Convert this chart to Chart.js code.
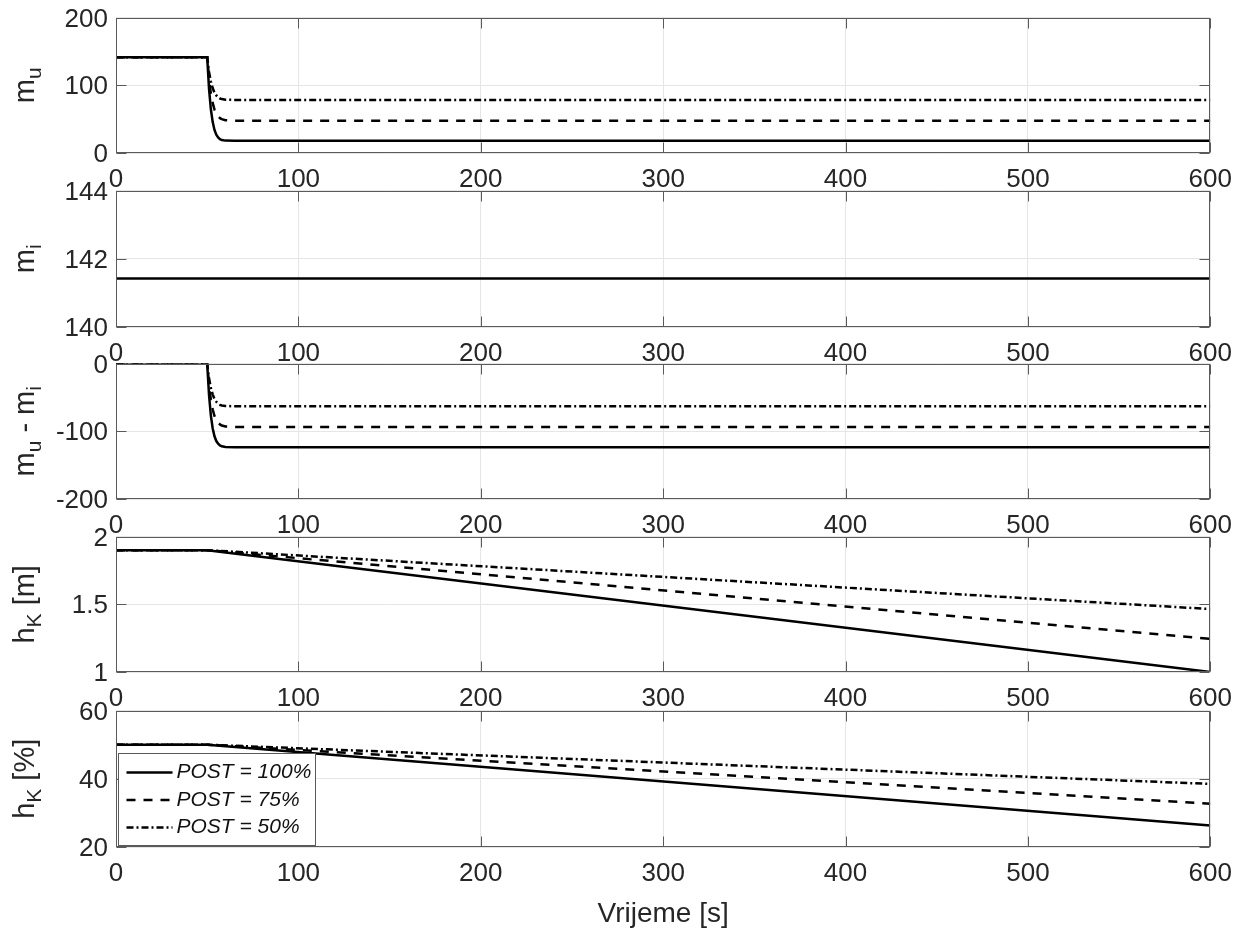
<!DOCTYPE html>
<html lang="hr">
<head>
<meta charset="utf-8">
<title>Vrijeme [s]</title>
<script src="https://cdn.jsdelivr.net/npm/chart.js"></script>
<style>
  body { margin: 0; background: #fff; }
  #figura { position: relative; width: 1243px; height: 933px; overflow: hidden; }
  #figura canvas { position: absolute; left: 0; }
</style>
</head>
<body>
<div id="figura"></div>
<script>
// === Podaci (ocitano sa slike) ===
const vrijeme = [0, 50, 51, 52, 53, 54, 55, 56, 57, 58, 60, 65, 600];
const muPost100 = [141.4, 141.4, 95, 65, 46, 34, 27, 23, 20.5, 19.2, 18.3, 18, 18];
const muPost75 = [141.4, 141.4, 110, 88, 74, 64, 58, 54, 51.5, 50, 48.5, 47.8, 47.8];
const muPost50 = [141.4, 141.4, 120, 105.5, 96, 89, 85, 82, 80.5, 79.6, 78.8, 78.4, 78.4];

const vrijemeMi = [0, 600];
const miSvi = [141.42, 141.42];

const razlikaPost100 = [0, 0, -46.4, -76.4, -95.4, -107.4, -114.4, -118.4, -120.9, -122.2, -123.1, -123.4, -123.4];
const razlikaPost75 = [0, 0, -31.4, -53.4, -67.4, -77.4, -83.4, -87.4, -89.9, -91.4, -92.9, -93.6, -93.6];
const razlikaPost50 = [0, 0, -21.4, -35.9, -45.4, -52.4, -56.4, -59.4, -60.9, -61.8, -62.6, -63, -63];

const vrijemeRazina = [0, 50, 600];
const hkPost100 = [1.9, 1.9, 1.0];
const hkPost75 = [1.9, 1.9, 1.245];
const hkPost50 = [1.9, 1.9, 1.465];
const hkPostoPost100 = [50, 50, 26.3];
const hkPostoPost75 = [50, 50, 32.7];
const hkPostoPost50 = [50, 50, 38.5];

const xOznake = [0, 100, 200, 300, 400, 500, 600];
const yOznakeMu = [0, 100, 200];
const yOznakeMi = [140, 142, 144];
const yOznakeRazlika = [-200, -100, 0];
const yOznakeHk = [1, 1.5, 2];
const yOznakeHkPosto = [20, 40, 60];

const legendaNazivi = ['POST = 100%', 'POST = 75%', 'POST = 50%'];

// === Izgled ===
const FONT = '"Liberation Sans", Arial, Helvetica, sans-serif';
const BOJA_TEKSTA = '#262626';
const BOJA_OSI = '#5a5a5a';
const BOJA_MREZE = '#e6e6e6';
const crtkanje = [[], [9, 8], [7, 3, 2, 3]];
const VRH = [18, 191, 364, 537, 711];
const VISINA = [135, 136, 135, 135, 136];
const GORE = 20;

const podgrafovi = [
  { naslov: [['m'], ['u', 1]], yOznake: yOznakeMu,
    serije: [[vrijeme, muPost100], [vrijeme, muPost75], [vrijeme, muPost50]] },
  { naslov: [['m'], ['i', 1]], yOznake: yOznakeMi,
    serije: [[vrijemeMi, miSvi]] },
  { naslov: [['m'], ['u', 1], [' - m'], ['i', 1]], yOznake: yOznakeRazlika,
    serije: [[vrijeme, razlikaPost100], [vrijeme, razlikaPost75], [vrijeme, razlikaPost50]] },
  { naslov: [['h'], ['K', 1], [' [m]']], yOznake: yOznakeHk,
    serije: [[vrijemeRazina, hkPost100], [vrijemeRazina, hkPost75], [vrijemeRazina, hkPost50]] },
  { naslov: [['h'], ['K', 1], [' [%]']], yOznake: yOznakeHkPosto, legenda: true,
    serije: [[vrijemeRazina, hkPostoPost100], [vrijemeRazina, hkPostoPost75], [vrijemeRazina, hkPostoPost50]] }
];

// === Okvir, unutarnje crtice, naslov osi y i legenda ===
const okvir = {
  id: 'okvir',
  afterDatasetsDraw(chart, args, opts) {
    const { ctx, chartArea: a, scales } = chart;
    const l = Math.round(a.left) + 0.5, r = Math.round(a.right) - 0.5;
    const t = Math.round(a.top) + 0.5, b = Math.round(a.bottom) - 0.5;
    ctx.save();
    ctx.strokeStyle = BOJA_OSI;
    ctx.lineWidth = 1;
    ctx.beginPath();
    scales.x.ticks.forEach(tk => {
      const px = Math.round(scales.x.getPixelForValue(tk.value)) + 0.5;
      ctx.moveTo(px, b); ctx.lineTo(px, b - 10);
      ctx.moveTo(px, t); ctx.lineTo(px, t + 10);
    });
    scales.y.ticks.forEach(tk => {
      const py = Math.round(scales.y.getPixelForValue(tk.value)) + 0.5;
      ctx.moveTo(l, py); ctx.lineTo(l + 10, py);
      ctx.moveTo(r, py); ctx.lineTo(r - 10, py);
    });
    ctx.stroke();
    ctx.strokeRect(l, t, r - l, b - t);

    // naslov osi y sa indeksima
    const glavni = '29px ' + FONT, indeks = '21px ' + FONT;
    let ukupno = 0;
    opts.naslov.forEach(([txt, sub]) => {
      ctx.font = sub ? indeks : glavni;
      ukupno += ctx.measureText(txt).width;
    });
    ctx.translate(34, (a.top + a.bottom) / 2);
    ctx.rotate(-Math.PI / 2);
    ctx.fillStyle = BOJA_TEKSTA;
    ctx.textBaseline = 'alphabetic';
    let x = -ukupno / 2;
    opts.naslov.forEach(([txt, sub]) => {
      ctx.font = sub ? indeks : glavni;
      ctx.fillText(txt, x, sub ? 7 : 0);
      x += ctx.measureText(txt).width;
    });
    ctx.restore();

    if (!opts.legenda) return;
    ctx.save();
    const lx = Math.round(a.left) + 2.5, ly = Math.round(a.bottom) - 93.5;
    ctx.fillStyle = '#fff';
    ctx.fillRect(lx, ly, 197, 92);
    ctx.strokeStyle = BOJA_OSI;
    ctx.strokeRect(lx, ly, 197, 92);
    ctx.font = 'italic 21px ' + FONT;
    ctx.textBaseline = 'middle';
    chart.data.datasets.forEach((ds, k) => {
      const y = ly + 19 + k * 27.5;
      ctx.strokeStyle = '#000';
      ctx.lineWidth = 2.5;
      ctx.setLineDash(ds.borderDash);
      ctx.beginPath();
      ctx.moveTo(lx + 8, y); ctx.lineTo(lx + 54, y);
      ctx.stroke();
      ctx.setLineDash([]);
      ctx.fillStyle = '#111';
      ctx.fillText(ds.label, lx + 58, y);
    });
    ctx.restore();
  }
};

// === Crtanje podgrafova ===
const figura = document.getElementById('figura');

function napraviGraf(p, i, dodatak) {
  const zadnji = i === podgrafovi.length - 1;
  const visinaX = zadnji ? 933 - (VRH[i] + VISINA[i]) : 40;
  const h = GORE + VISINA[i] + visinaX + dodatak;
  const canvas = document.createElement('canvas');
  canvas.width = 1243;
  canvas.height = h;
  canvas.style.top = (VRH[i] - GORE) + 'px';
  canvas.style.width = '1243px';
  canvas.style.height = h + 'px';
  figura.appendChild(canvas);

  const yOz = p.yOznake;
  const graf = new Chart(canvas, {
    type: 'line',
    data: {
      datasets: p.serije.map(([xs, ys], k) => ({
        label: legendaNazivi[k],
        data: xs.map((v, j) => ({ x: v, y: ys[j] })),
        borderColor: '#000',
        borderWidth: 2.5,
        borderDash: crtkanje[k],
        pointRadius: 0,
        tension: 0,
        fill: false
      }))
    },
    options: {
      responsive: false,
      animation: false,
      devicePixelRatio: 1,
      layout: { padding: { top: GORE, right: 31, left: 0, bottom: 0 } },
      plugins: {
        legend: { display: false },
        tooltip: { enabled: false },
        okvir: { naslov: p.naslov, legenda: !!p.legenda }
      },
      scales: {
        x: {
          type: 'linear', min: 0, max: 600,
          afterBuildTicks: s => { s.ticks = xOznake.map(v => ({ value: v })); },
          afterFit: s => { s.height = visinaX; },
          grid: { color: BOJA_MREZE, drawTicks: false },
          border: { display: false },
          ticks: {
            color: BOJA_TEKSTA, font: { family: FONT, size: 26 }, padding: 11,
            maxRotation: 0, autoSkip: false, callback: v => String(v)
          },
          title: {
            display: zadnji, text: 'Vrijeme [s]', color: BOJA_TEKSTA,
            font: { family: FONT, size: 28 }, padding: { top: 0, bottom: 2 }
          }
        },
        y: {
          type: 'linear', min: yOz[0], max: yOz[yOz.length - 1],
          afterBuildTicks: s => { s.ticks = yOz.map(v => ({ value: v })); },
          afterFit: s => { s.width = 116; },
          grid: { color: BOJA_MREZE, drawTicks: false },
          border: { display: false },
          ticks: { color: BOJA_TEKSTA, font: { family: FONT, size: 26 }, padding: 8, labelOffset: 2, callback: v => String(v) }
        }
      }
    },
    plugins: [okvir]
  });

  // ako je podrucje crtanja manje nego sto treba, napravi ga ponovo
  const a = graf.chartArea;
  const razlika = VISINA[i] - Math.round(a.bottom - a.top);
  if (razlika !== 0 && dodatak === 0) {
    graf.destroy();
    canvas.remove();
    return napraviGraf(p, i, razlika);
  }
  canvas.style.top = (VRH[i] - Math.round(a.top)) + 'px';
  return graf;
}

podgrafovi.forEach((p, i) => napraviGraf(p, i, 0));
</script>
</body>
</html>
